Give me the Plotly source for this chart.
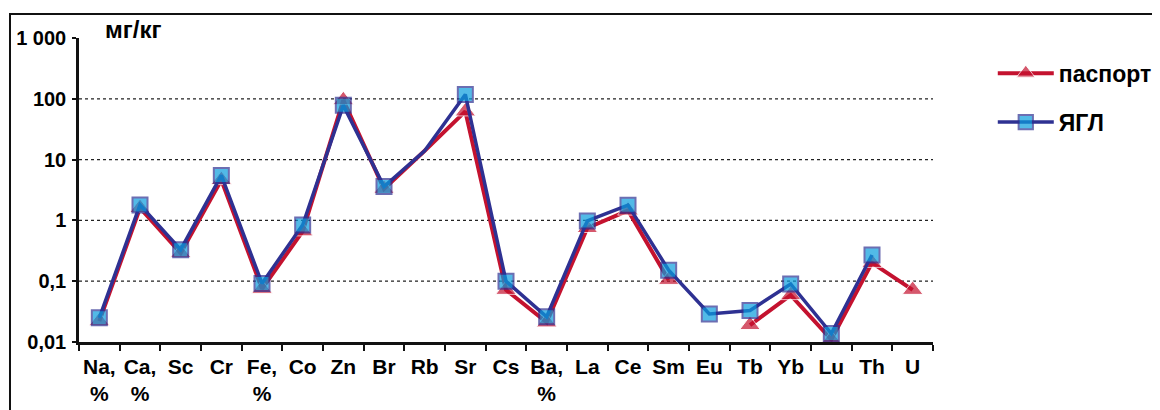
import math
import plotly.graph_objects as go

categories = ["Na,<br>%", "Ca,<br>%", "Sc", "Cr", "Fe,<br>%", "Co", "Zn", "Br", "Rb", "Sr",
              "Cs", "Ba,<br>%", "La", "Ce", "Sm", "Eu", "Tb", "Yb", "Lu", "Th", "U"]
pasport = [0.022, 1.6, 0.29, 4.6, 0.075, 0.66, 95, 3.3, 14, 62,
           0.072, 0.021, 0.75, 1.45, 0.105, None, 0.019, 0.059, 0.011, 0.2, 0.072]
yagl = [0.025, 1.8, 0.33, 5.5, 0.092, 0.84, 78, 3.6, 14, 118,
        0.1, 0.026, 0.98, 1.78, 0.152, 0.029, 0.033, 0.09, 0.0138, 0.27, None]
marker_hidden = ["Rb"]
y_tickvals = [0.01, 0.1, 1, 10, 100, 1000]
y_ticktext = ["0,01", "0,1", "1", "10", "100", "1 000"]
grid_vals = [0.1, 1, 10, 100]

RED = "#C4122F"
NAVY = "#2E3192"
CYAN = "#0A9DDE"
INK = "#000000"
FONT = "Liberation Sans, Arial, sans-serif"

def sizes(base):
    return [0 if c in marker_hidden else base for c in categories]

fig = go.Figure()
fig.add_trace(go.Scatter(
    x=categories, y=pasport, name="<b>паспорт</b>", mode="lines+markers",
    line=dict(color=RED, width=4), connectgaps=False,
    marker=dict(symbol="triangle-up", size=sizes(18), color=RED),
    legendgroup="a"))
fig.add_trace(go.Scatter(
    x=categories, y=yagl, name="<b>ЯГЛ</b>", mode="lines+markers",
    line=dict(color=NAVY, width=3.5), connectgaps=False,
    marker=dict(symbol="square", size=sizes(15), color=CYAN,
                line=dict(color=NAVY, width=2)),
    legendgroup="b"))

# dotted gridlines (not at the top 1000 line)
lo, hi = -2, 3
for g in grid_vals:
    d = (math.log10(g) - lo) / (hi - lo)
    fig.add_shape(type="line", xref="x domain", yref="y domain", x0=0, x1=1, y0=d, y1=d,
                  line=dict(color="#222", width=1.2, dash="dot"), layer="below")

# outer frame
fig.add_shape(type="rect", xref="paper", yref="paper",
              x0=-0.0808, x1=1.2635, y0=-0.35, y1=1.0789,
              line=dict(color="#111", width=2))

fig.add_annotation(text="<b>мг/кг</b>", xref="paper", yref="paper", x=0.028, y=1.027,
                   xanchor="left", yanchor="middle", showarrow=False,
                   font=dict(family=FONT, size=24, color=INK))

fig.update_layout(
    width=1160, height=410,
    margin=dict(l=71, r=235, t=30, b=76, autoexpand=False),
    paper_bgcolor="white", plot_bgcolor="white",
    font=dict(family=FONT, size=22, color=INK),
    showlegend=True,
    legend=dict(x=1.07, y=0.955, xanchor="left", yanchor="top",
                font=dict(family=FONT, size=23, color=INK),
                tracegroupgap=16, traceorder="grouped", itemwidth=56,
                bgcolor="rgba(0,0,0,0)"),
    xaxis=dict(type="category", range=[-0.5, 20.5], showgrid=False,
               showline=True, linecolor="#111", linewidth=2.5,
               ticks="outside", tickson="boundaries", ticklen=6, tickwidth=2,
               tickcolor="#111", ticklabelstandoff=4, tickangle=0, automargin=False,
               tickfont=dict(family=FONT, size=21, color=INK, weight="bold"),
               zeroline=False),
    yaxis=dict(type="log", range=[lo, hi], showgrid=False,
               showline=True, linecolor="#111", linewidth=2.5,
               tickvals=y_tickvals, ticktext=y_ticktext, automargin=False,
               ticks="outside", ticklen=4, tickwidth=2, tickcolor="#111",
               ticklabelstandoff=2,
               tickfont=dict(family=FONT, size=20, color=INK, weight="bold"),
               zeroline=False),
)

fig.write_html("out.html")
